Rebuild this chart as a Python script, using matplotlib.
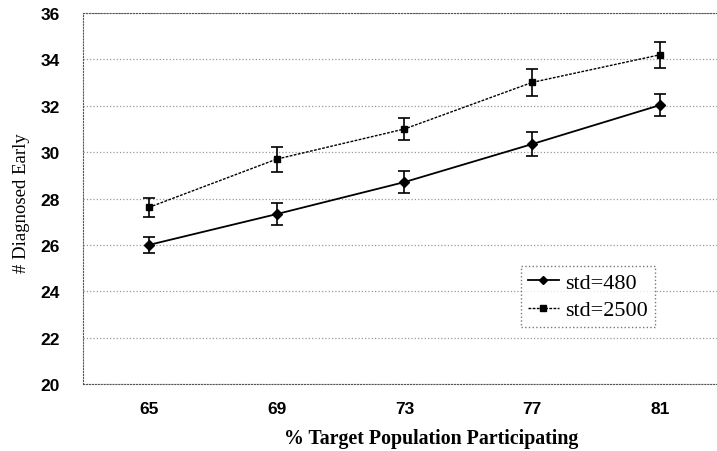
import numpy as np
import matplotlib.pyplot as plt

participating = ['65', '69', '73', '77', '81']
std480 = [26.0, 27.33, 28.71, 30.35, 32.03]
std480_err = [0.36, 0.46, 0.47, 0.51, 0.47]
std2500 = [27.62, 29.70, 31.00, 33.01, 34.20]
std2500_err = [0.41, 0.54, 0.47, 0.57, 0.57]

fig = plt.figure(figsize=(7.17, 4.52), dpi=100)
ax = fig.add_axes([0.1158, 0.148, 0.8842, 0.821])

x = np.arange(len(participating))

# error bars first, lines on top (lines carry the legend)
ax.errorbar(x, std480, yerr=std480_err, fmt='none', ecolor='black',
            capsize=4, elinewidth=1.2, capthick=1.2, zorder=3)
ax.errorbar(x, std2500, yerr=std2500_err, fmt='none', ecolor='black',
            capsize=4, elinewidth=1.2, capthick=1.2, zorder=3)
ax.plot(x, std480, color='black', linestyle='-', linewidth=1.3,
        marker='D', markersize=5, label='std=480', zorder=4)
ax.plot(x, std2500, color='black', linestyle=(0, (2, 1)), linewidth=1.0,
        marker='s', markersize=5, label='std=2500', zorder=4)

ax.set_xlim(-0.515, 4.445)
ax.set_ylim(20, 36)
ax.set_yticks(np.arange(20, 37, 2))
ax.set_xticks(x)
ax.set_xticklabels(participating)

ax.grid(axis='y', color='#999999', linestyle=':', linewidth=0.9)
ax.tick_params(length=0, labelsize=12.5)
ax.tick_params(axis='y', pad=16.5)
ax.tick_params(axis='x', pad=12)
for lab in ax.get_xticklabels() + ax.get_yticklabels():
    lab.set_fontfamily('Liberation Sans')
    lab.set_fontweight('bold')

for side in ['left', 'top', 'bottom']:
    ax.spines[side].set_linestyle(':')
    ax.spines[side].set_color('#555555')
ax.spines['right'].set_visible(False)

ax.set_ylabel('# Diagnosed Early', fontfamily='Liberation Serif', fontsize=13.5)
ax.yaxis.set_label_coords(-0.084, 0.49)
ax.set_xlabel('% Target Population Participating', fontfamily='Liberation Serif',
              fontsize=14.3, fontweight='bold')
ax.xaxis.set_label_coords(0.549, -0.118)

leg = ax.legend(loc='lower left', bbox_to_anchor=(0.691, 0.154),
                prop={'family': 'Liberation Serif', 'size': 16},
                frameon=True, fancybox=False, handlelength=1.4, handletextpad=0.3,
                borderpad=0.3, labelspacing=0.3, borderaxespad=0, markerscale=0.85)
leg.get_frame().set_edgecolor('#555555')
leg.get_frame().set_linestyle(':')
leg.get_frame().set_linewidth(1.0)

fig.savefig('out.png', dpi=100)
